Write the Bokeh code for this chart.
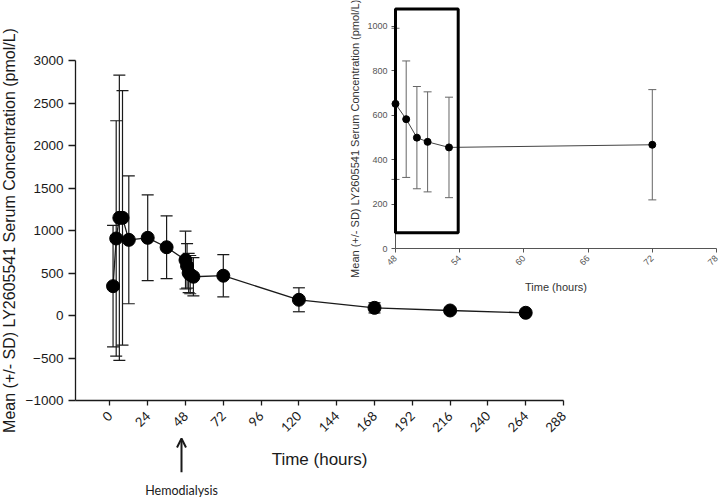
import math
from bokeh.plotting import figure
from bokeh.models import (Range1d, LinearAxis, FixedTicker, Whisker, ColumnDataSource,
                          Arrow, OpenHead, TeeHead, Label, BoxAnnotation)
from bokeh.embed import file_html
from bokeh.resources import INLINE

# ---------------- data ----------------
time_h = [2, 4, 6, 8, 12, 24, 36, 48, 49, 50, 51, 53, 72, 120, 168, 216, 264]
mean_conc = [345, 906, 1149, 1149, 890, 914, 803, 652, 583, 500, 481, 456, 468, 185, 90, 59, 32]
sd_conc = [715, 1385, 1678, 1497, 752, 504, 370, 340, 262, 230, 225, 226, 248, 141, 60, 30, 20]

inset_time = [48, 49, 50, 51, 53, 72]
inset_mean = [652, 583, 500, 481, 456, 468]
inset_sd = [340, 262, 230, 225, 226, 248]

main_xticks = [0, 24, 48, 72, 96, 120, 144, 168, 192, 216, 240, 264, 288]
main_yticks = [-1000, -500, 0, 500, 1000, 1500, 2000, 2500, 3000]
inset_xticks = [48, 54, 60, 66, 72, 78]
inset_yticks = [0, 200, 400, 600, 800, 1000]

ylabel = "Mean (+/- SD) LY2605541 Serum Concentration (pmol/L)"

# ---------------- figure ----------------
W, H = 722, 499
p = figure(width=W, height=H, output_backend="svg", toolbar_location=None,
           x_range=Range1d(-69.46, 388.95), y_range=Range1d(-2164.7, 3705.9),
           x_axis_location=None, y_axis_location=None, min_border=0,
           outline_line_color=None)
p.extra_x_ranges = {"ix": Range1d(11.084, 78.561)}
p.extra_y_ranges = {"iy": Range1d(-1127.8, 1116.9)}
for g in p.grid:
    g.visible = False

MAIN_X0 = -21.84
INK = "#1a1a1a"

# main axes
xa = LinearAxis(fixed_location=-1000, bounds=(MAIN_X0, 288),
                ticker=FixedTicker(ticks=main_xticks), axis_label="Time (hours)")
xa.major_label_orientation = math.pi / 4
xa.major_tick_out = 5
xa.major_tick_in = 0
xa.minor_tick_out = 0
xa.minor_tick_in = 0
xa.axis_line_color = INK
xa.axis_line_width = 1.3
xa.major_tick_line_color = INK
xa.major_tick_line_width = 1.3
xa.major_label_text_font = "Lato"
xa.major_label_text_font_size = "13px"
xa.major_label_text_color = INK
xa.major_label_standoff = 8
xa.axis_label_text_font = "Liberation Sans"
xa.axis_label_text_font_size = "17px"
xa.axis_label_text_font_style = "normal"
xa.axis_label_text_color = INK
xa.axis_label_standoff = 10
p.add_layout(xa, "below")

ya = LinearAxis(fixed_location=MAIN_X0, bounds=(-1000, 3000),
                ticker=FixedTicker(ticks=main_yticks), axis_label=ylabel)
ya.major_tick_out = 7
ya.major_tick_in = 0
ya.minor_tick_out = 0
ya.minor_tick_in = 0
ya.axis_line_color = INK
ya.axis_line_width = 1.3
ya.major_tick_line_color = INK
ya.major_tick_line_width = 1.3
ya.major_label_text_font = "Liberation Sans"
ya.major_label_text_font_size = "13.5px"
ya.major_label_text_color = INK
ya.major_label_standoff = 5
ya.axis_label_text_font = "Liberation Sans"
ya.axis_label_text_font_size = "16px"
ya.axis_label_text_font_style = "normal"
ya.axis_label_text_color = INK
ya.axis_label_standoff = 5
p.add_layout(ya, "left")

# main series
up = [m + s for m, s in zip(mean_conc, sd_conc)]
lo = [m - s for m, s in zip(mean_conc, sd_conc)]
src = ColumnDataSource(dict(t=time_h, m=mean_conc, up=up, lo=lo))
p.add_layout(Whisker(source=src, base="t", upper="up", lower="lo",
                     line_color=INK, line_width=1.2,
                     upper_head=TeeHead(size=12, line_color=INK, line_width=1.2),
                     lower_head=TeeHead(size=12, line_color=INK, line_width=1.2)))
p.line("t", "m", source=src, line_color=INK, line_width=1.3)
p.scatter("t", "m", source=src, size=13, fill_color="black", line_color="black")

# hemodialysis marker
p.add_layout(Arrow(x_start=45.46, y_start=-1843, x_end=45.46, y_end=-1447,
                   line_width=2, line_color=INK,
                   end=OpenHead(size=9, line_width=2, line_color=INK)))
p.add_layout(Label(x=45.46, y=-2059, text="Hemodialysis", text_align="center",
                   text_baseline="middle", text_font="Lato",
                   text_font_size="12.5px", text_color=INK))

# ---------------- inset ----------------
GRAY = "#555555"
ixa = LinearAxis(x_range_name="ix", y_range_name="iy", fixed_location=0,
                 bounds=(48, 78), ticker=FixedTicker(ticks=inset_xticks),
                 axis_label="Time (hours)")
ixa.major_label_orientation = math.pi / 4
ixa.major_tick_out = 4
ixa.major_tick_in = 0
ixa.minor_tick_out = 0
ixa.minor_tick_in = 0
ixa.axis_line_color = GRAY
ixa.major_tick_line_color = GRAY
ixa.major_label_text_font = "Liberation Sans"
ixa.major_label_text_font_size = "9px"
ixa.major_label_text_color = GRAY
ixa.major_label_standoff = 4
ixa.axis_label_text_font = "Liberation Sans"
ixa.axis_label_text_font_size = "11px"
ixa.axis_label_text_font_style = "normal"
ixa.axis_label_text_color = "#333333"
ixa.axis_label_standoff = 10
p.add_layout(ixa, "below")

iya = LinearAxis(x_range_name="ix", y_range_name="iy", fixed_location=48,
                 bounds=(0, 1080), ticker=FixedTicker(ticks=inset_yticks))
iya.major_tick_out = 4
iya.major_tick_in = 0
iya.minor_tick_out = 0
iya.minor_tick_in = 0
iya.axis_line_color = GRAY
iya.major_tick_line_color = GRAY
iya.major_label_text_font = "Liberation Sans"
iya.major_label_text_font_size = "9px"
iya.major_label_text_color = GRAY
iya.major_label_standoff = 4
p.add_layout(iya, "left")

p.add_layout(Label(x=44.26, y=495, x_range_name="ix", y_range_name="iy",
                   text=ylabel, angle=math.pi / 2, text_align="center",
                   text_baseline="middle", text_font="Liberation Sans",
                   text_font_size="11px", text_color="#333333"))

iup = [m + s for m, s in zip(inset_mean, inset_sd)]
ilo = [m - s for m, s in zip(inset_mean, inset_sd)]
isrc = ColumnDataSource(dict(t=inset_time, m=inset_mean, up=iup, lo=ilo))
p.add_layout(Whisker(source=isrc, base="t", upper="up", lower="lo",
                     x_range_name="ix", y_range_name="iy",
                     line_color="#666666", line_width=1,
                     upper_head=TeeHead(size=8, line_color="#666666", line_width=1),
                     lower_head=TeeHead(size=8, line_color="#666666", line_width=1)))
p.line("t", "m", source=isrc, x_range_name="ix", y_range_name="iy",
       line_color="#444444", line_width=1)
p.scatter("t", "m", source=isrc, x_range_name="ix", y_range_name="iy",
          size=7, fill_color="black", line_color="black")

p.add_layout(BoxAnnotation(left=48, right=53.86, bottom=72, top=1079,
                           x_range_name="ix", y_range_name="iy",
                           fill_alpha=0, line_color="black", line_alpha=1,
                           line_width=3))

open("out.html", "w").write(file_html(p, INLINE))
